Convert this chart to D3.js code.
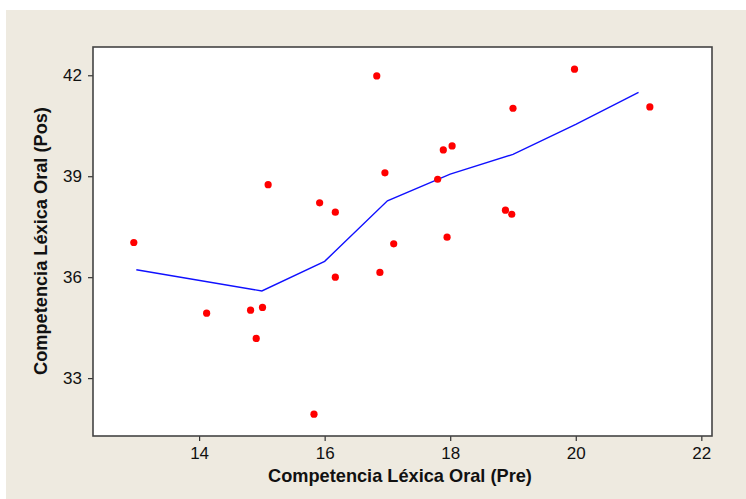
<!DOCTYPE html>
<html><head><meta charset="utf-8">
<script src="https://cdn.jsdelivr.net/npm/d3@7"></script>
<style>html,body{margin:0;padding:0;background:#fff;}</style>
</head><body>
<svg id="chart" width="746" height="499"></svg>
<script>
const preScores = [12.96,14.12,14.82,15.01,14.91,15.83,16.17,16.88,15.92,16.17,15.1,16.83,16.96,19.98,19.0,21.18,17.89,18.03,17.8,18.88,18.98,17.1,17.95];
const posScores = [37.03,34.93,35.02,35.1,34.18,31.93,36.0,36.14,38.21,37.93,38.75,41.98,39.1,42.18,41.02,41.06,39.78,39.9,38.91,37.99,37.87,36.99,37.19];
const smoothX = [13,15,16,17,18,19,20,21];
const smoothY = [36.22,35.59,36.47,38.27,39.06,39.65,40.54,41.49];
const xTicks = [14,16,18,20,22];
const yTicks = [33,36,39,42];
const xLabel = "Competencia Léxica Oral (Pre)";
const yLabel = "Competencia Léxica Oral (Pos)";

const svg = d3.select("#chart");
svg.append("rect").attr("x",6).attr("y",10).attr("width",740).attr("height",489).attr("fill","#eeeae0");

const L=93, R=712, T=47, B=436;
const x = d3.scaleLinear().domain([12.31,22.17]).range([L,R]);
const y = d3.scaleLinear().domain([31.28,42.84]).range([B,T]);

svg.append("rect").attr("x",L).attr("y",T).attr("width",R-L).attr("height",B-T).attr("fill","#fff");

const font = "'Liberation Sans', Arial, sans-serif";
const xAxis = svg.append("g").attr("transform",`translate(0,${B})`)
  .call(d3.axisBottom(x).tickValues(xTicks).tickSize(5).tickPadding(6).tickFormat(d3.format("d")));
const yAxis = svg.append("g").attr("transform",`translate(${L},0)`)
  .call(d3.axisLeft(y).tickValues(yTicks).tickSize(5).tickPadding(6).tickFormat(d3.format("d")));
[xAxis,yAxis].forEach(a=>{
  a.select(".domain").remove();
  a.selectAll(".tick line").attr("stroke","#333").attr("stroke-width",1.2);
  a.selectAll(".tick text").attr("font-family",font).attr("font-size",17).attr("fill","#111");
});

svg.append("rect").attr("x",L).attr("y",T).attr("width",R-L).attr("height",B-T)
  .attr("fill","none").attr("stroke","#444").attr("stroke-width",1.6);

const line = d3.line().x(d=>x(d[0])).y(d=>y(d[1]));
svg.append("path").datum(smoothX.map((v,i)=>[v,smoothY[i]]))
  .attr("d",line).attr("fill","none").attr("stroke","#1010ff").attr("stroke-width",1.4);

svg.append("g").selectAll("circle").data(preScores.map((v,i)=>[v,posScores[i]])).join("circle")
  .attr("cx",d=>x(d[0])).attr("cy",d=>y(d[1])).attr("r",3.6).attr("fill","#ff0000");

svg.append("text").attr("x",400).attr("y",482).attr("text-anchor","middle")
  .attr("font-family",font).attr("font-weight","bold").attr("font-size",18.2).attr("fill","#111").text(xLabel);
svg.append("text").attr("transform","translate(47,241) rotate(-90)").attr("text-anchor","middle")
  .attr("font-family",font).attr("font-weight","bold").attr("font-size",18.2).attr("fill","#111").text(yLabel);
</script>
</body></html>
